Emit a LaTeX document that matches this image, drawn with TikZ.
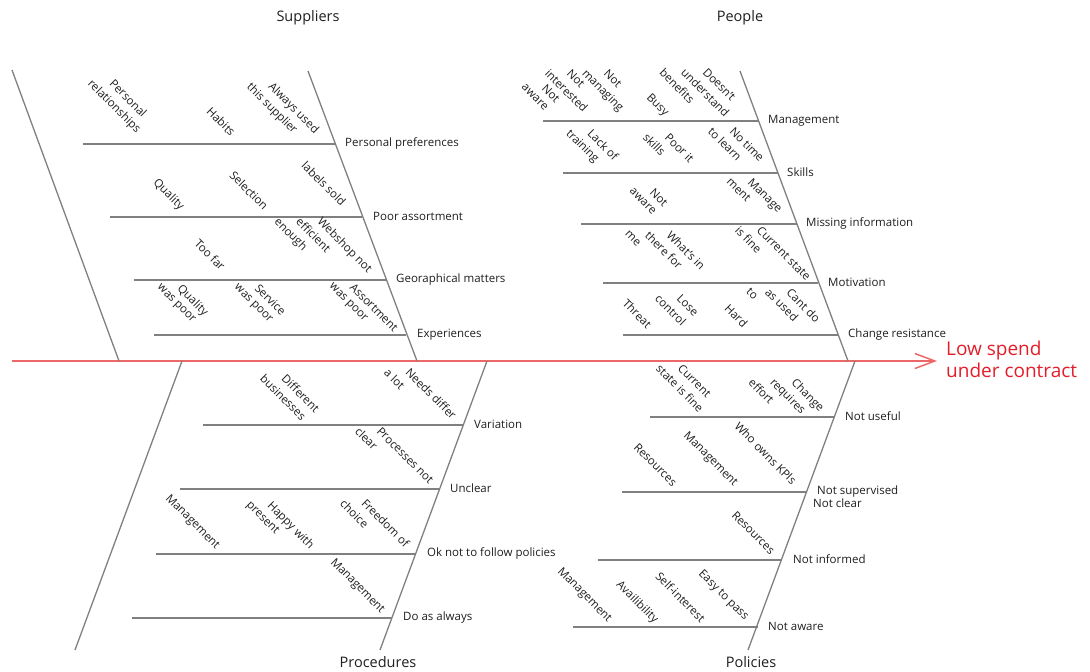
\documentclass[tikz,border=0pt]{standalone}
\usepackage{fontspec}
\setmainfont{Open Sans}
\usetikzlibrary{arrows.meta}

\definecolor{bonegray}{RGB}{128,128,128}
\definecolor{spinered}{RGB}{236,104,104}
\definecolor{effectred}{RGB}{226,30,42}
\definecolor{ink}{RGB}{30,30,30}

\tikzset{
  bone/.style={draw=bonegray, line width=1.3pt},
  spine/.style={draw=spinered, line width=1.5pt, -{Straight Barb[length=20pt,width=15pt]}},
  cause/.style={rotate=-45, anchor=north west, inner sep=0pt, text=ink,
    font=\fontsize{11.5}{13}\selectfont},
  sublabel/.style={anchor=west, inner sep=0pt, text=ink,
    font=\fontsize{11.5}{13}\selectfont},
  category/.style={inner sep=0pt, text=ink, font=\fontsize{14.5}{17}\selectfont},
  effect/.style={anchor=west, inner sep=0pt, text=effectred, align=left,
    font=\fontsize{19}{22}\selectfont},
}

% A cause written on slanted lines; each further line starts 21.5 units to the left
\newcommand\fbcause[4]{%
  \foreach \ln [count=\i from 0] in {#4}{%
    \node[cause] (#1-\i) at ({#2-21.5*\i},#3) {\ln};
  }}

\begin{document}
\begin{tikzpicture}[x=1pt,y=-1pt]
\useasboundingbox (0,0) rectangle (1090,672);

% ---------------- spine and effect ----------------
\coordinate (tail) at (12,361);
\coordinate (head) at (937,361);
\draw[spine] (tail) -- (head);
\node[effect] (effect) at (946,359) {Low spend\\under contract};

% ---------------- main bones ----------------
\coordinate (b0t) at (12,70);   \coordinate (b0b) at (119,361);
\coordinate (b1t) at (308,71);  \coordinate (b1b) at (417,361);
\coordinate (b2t) at (740,71);  \coordinate (b2b) at (848,361);
\coordinate (b3t) at (182,361); \coordinate (b3b) at (75,650);
\coordinate (b4t) at (487,361); \coordinate (b4b) at (380,650);
\coordinate (b5t) at (855,361); \coordinate (b5b) at (748,650);
\foreach \b in {0,...,5} \draw[bone] (b\b t) -- (b\b b);

\node[category] (suppliers)  at (308,17.5)  {Suppliers};
\node[category] (people)     at (740,17.5)  {People};
\node[category] (procedures) at (378,662.5) {Procedures};
\node[category] (policies)   at (751,662.5) {Policies};

% ---------------- sub-bones ----------------
% name / left x / right x / y / label x / label y / label
\foreach \n/\xa/\xb/\y/\lx/\ly/\t in {
    pp/83/335/144/345/143.5/Personal preferences,
    pa/110/362/217/373/216.5/Poor assortment,
    gm/134/386/280/396/279.5/Georaphical matters,
    ex/154/406/335/417/334.5/Experiences,
    mg/543/759/121/768/120.5/Management,
    sk/563/778/173/787/172.5/Skills,
    mi/581/797/224/806/223.5/Missing information,
    mo/603/818/283/828/282.5/Motivation,
    cr/623/838/335/848/334.5/Change resistance,
    va/203/463/425/474/424.5/Variation,
    un/180/439/489/450/488.5/Unclear,
    ok/156/416/554/427/553.5/Ok not to follow policies,
    da/132/392/618/403/617.5/Do as always,
    nu/650/834/417/845/416.5/Not useful,
    ns/622/807/492/817/491.5/Not supervised,
    ni/598/782/560/793/559.5/Not informed,
    na/573/758/627/768/626.5/Not aware}{
  \coordinate (\n-a) at (\xa,\y);
  \coordinate (\n-b) at (\xb,\y);
  \draw[bone] (\n-a) -- (\n-b);
  \node[sublabel] (\n-label) at (\lx,\ly) {\t};
}
\node[sublabel] (nc-label) at (813,503.5) {Not clear};

% ---------------- Suppliers causes ----------------
\fbcause{pp1}{115}{78}{Personal,relationships}
\fbcause{pp2}{212}{106}{Habits}
\fbcause{pp3}{274}{81}{Always used,this supplier}
\fbcause{pa1}{159}{177}{Quality}
\fbcause{pa2}{235}{170}{Selection}
\fbcause{pa3}{307}{160}{labels sold}
\fbcause{gm1}{200}{238}{Too far}
\fbcause{gm2}{323}{216}{Webshop not,efficient,enough}
\fbcause{ex1}{183}{283}{Quality,was poor}
\fbcause{ex2}{260}{283}{Service,was poor}
\fbcause{ex3}{355}{282}{Assortment,was poor}

% ---------------- People causes ----------------
\fbcause{mg1}{609}{68}{Not,managing}
\fbcause{mg2}{572}{68}{Not,interested}
\fbcause{mg3}{547}{83}{Not,aware}
\fbcause{mg4}{652}{92}{Busy}
\fbcause{mg5}{708}{67}{Doesn't,understand,benefits}
\fbcause{sk1}{593}{128}{Lack of,training}
\fbcause{sk2}{670}{132}{Poor it,skills}
\fbcause{sk3}{735}{126}{No time,to learn}
\fbcause{mi1}{655}{187}{Not,aware}
\fbcause{mi2}{753}{177}{Manage,ment}
\fbcause{mo1}{672}{230}{What's in,there for,me}
\fbcause{mo2}{762}{225}{Current state,is fine}
\fbcause{cr1}{682}{293}{Lose,control}
\fbcause{cr2}{628}{298}{Threat}
\node[cause] (cr3-to) at (751,287) {to};
\node[cause] (cr3-hard) at (730,303) {Hard};
\fbcause{cr4}{792}{287}{Cant do,as used}

% ---------------- Procedures causes ----------------
\fbcause{va1}{287}{373}{Different,businesses}
\fbcause{va2}{411}{367}{Needs differ,a lot}
\fbcause{un1}{382}{426}{Processes not,clear}
\fbcause{ok1}{171}{493}{Management}
\fbcause{ok2}{273}{500}{Happy with,present}
\fbcause{ok3}{367}{498}{Freedom of,choice}
\fbcause{da1}{336}{557}{Management}

% ---------------- Policies causes ----------------
\fbcause{nu1}{683}{363}{Current,state is fine}
\fbcause{nu2}{797}{377}{Change,requires,effort}
\fbcause{ns1}{639}{442}{Resources}
\fbcause{ns2}{689}{430}{Management}
\fbcause{ns3}{740}{421}{Who owns KPIs}
\fbcause{ni1}{737}{510}{Resources}
\fbcause{na1}{563}{566}{Management}
\fbcause{na2}{622}{579}{Availibility}
\fbcause{na3}{661}{571}{Self-interest}
\fbcause{na4}{704}{568}{Easy to pass}
\end{tikzpicture}
\end{document}
